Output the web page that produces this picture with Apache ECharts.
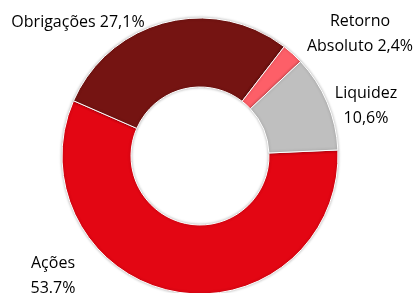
<!DOCTYPE html>
<html>
<head>
<meta charset="utf-8">
<script src="https://cdn.jsdelivr.net/npm/echarts@6/dist/echarts.min.js"></script>
<style>
  html, body { margin: 0; padding: 0; background: #fff; }
  #chart { width: 418px; height: 293px; }
</style>
</head>
<body>
<div id="chart"></div>
<script>
var categories = ['Ações', 'Obrigações', 'Retorno Absoluto', 'Liquidez']
var values = [53.7, 27.1, 2.4, 10.6]
var labelTexts = ['Ações\n53.7%', 'Obrigações 27,1%', 'Retorno\nAbsoluto 2,4%', 'Liquidez\n10,6%']
var colors = ['#e30613', '#751412', '#fd5f68', '#bfbfbf']
// label centre positions (px)
var labelPos = [[53, 276], [78, 22], [360, 34], [366, 106]]

var chart = echarts.init(document.getElementById('chart'))

var data = categories.map(function (name, i) {
  return {
    name: name,
    value: values[i],
    itemStyle: { color: colors[i] },
    label: { formatter: labelTexts[i] }
  }
})

chart.setOption({
  animation: false,
  series: [{
    type: 'pie',
    center: [200, 156],
    radius: [69, 138],
    startAngle: 2.5,
    clockwise: true,
    avoidLabelOverlap: false,
    itemStyle: {
      borderColor: '#fff',
      borderWidth: 1,
      shadowBlur: 3,
      shadowColor: 'rgba(0,0,0,0.3)'
    },
    label: {
      show: true,
      position: 'outside',
      color: '#000',
      fontFamily: 'Open Sans',
      fontSize: 16,
      lineHeight: 25,
      align: 'center'
    },
    labelLine: { show: false },
    labelLayout: function (params) {
      var p = labelPos[params.dataIndex]
      return { x: p[0], y: p[1], align: 'center', verticalAlign: 'middle' }
    },
    data: data
  }]
})
</script>
</body>
</html>
